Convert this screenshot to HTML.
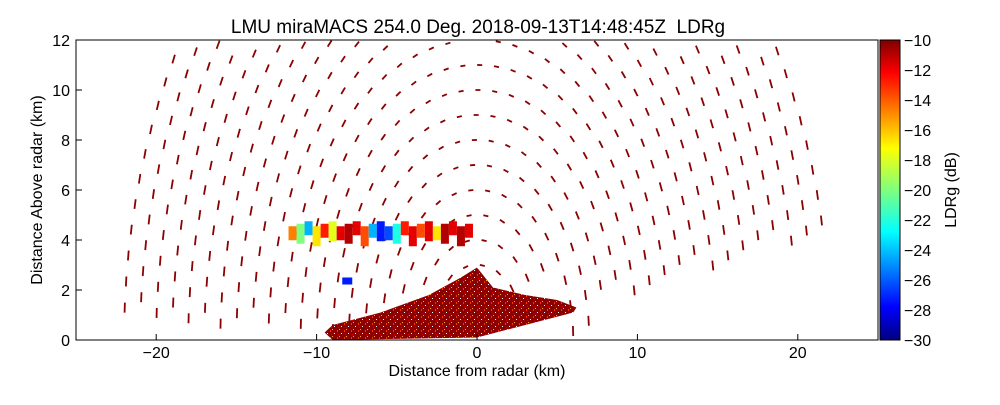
<!DOCTYPE html>
<html><head><meta charset="utf-8"><style>
body{margin:0;background:#fff;font-family:"Liberation Sans",sans-serif}
</style></head><body>
<svg id="c" width="1000" height="400" xmlns="http://www.w3.org/2000/svg">
<defs><linearGradient id="jet" x1="0" y1="1" x2="0" y2="0">
<stop offset="0" stop-color="#00007f"/><stop offset="0.11" stop-color="#0000ff"/><stop offset="0.36" stop-color="#00ffff"/><stop offset="0.5" stop-color="#7fff7f"/><stop offset="0.64" stop-color="#ffff00"/><stop offset="0.89" stop-color="#ff0000"/><stop offset="1" stop-color="#7f0000"/></linearGradient>
<pattern id="clut" width="7" height="7" patternUnits="userSpaceOnUse"><rect width="7" height="7" fill="#8b0000"/><rect x="1" y="1" width="1" height="2" fill="#ff3000"/><rect x="5" y="4" width="1" height="1" fill="#fff"/><rect x="3" y="0" width="1" height="1" fill="#ffb000"/><rect x="2" y="5" width="1" height="1" fill="#d00000"/></pattern></defs>
<text x="478" y="33" font-size="19" text-anchor="middle" xml:space="preserve">LMU miraMACS 254.0 Deg. 2018-09-13T14:48:45Z  LDRg</text>
<g id="marks"></g>
<rect x="76" y="40" width="802" height="300" fill="none" stroke="#000"/>
<g id="axes" font-size="16"></g>
<rect x="880" y="40" width="20" height="300" fill="url(#jet)" stroke="#000"/>
<text x="956" y="190" font-size="16" text-anchor="middle" transform="rotate(-90 956 190)">LDRg (dB)</text>
<text x="477" y="376" font-size="16" text-anchor="middle">Distance from radar (km)</text>
<text x="42" y="190" font-size="16" text-anchor="middle" transform="rotate(-90 42 190)">Distance Above radar  (km)</text>
</svg>
<script>
const xTicks=[-20,-10,0,10,20];
const yTicks=[0,2,4,6,8,10,12];
const cbTicks=[-10,-12,-14,-16,-18,-20,-22,-24,-26,-28,-30];
const gateRanges=[3.0,4.0,5.0,6.0,7.0,8.0,9.0,10.0,11.0,12.0,13.0,14.0,15.0,16.0,17.0,18.0,19.0,20.0,21.0,22.0];
const arcSpacingKm=[1.05];
const layerX=[-11.5,-11,-10.5,-10,-9.5,-9,-8.5,-8,-7.5,-7,-6.5,-6,-5.5,-5,-4.5,-4,-3.5,-3,-2.5,-2,-1.5,-1,-0.5];
const layerLDR=[-15,-20,-24,-17,-13,-18,-12,-11,-12,-14,-24,-27,-26,-22,-13,-12,-14,-12,-17,-11,-12,-11,-12];
const X=v=>477+v*16.04, Y=v=>340-v*25, CB=v=>40+(-10-v)*15;
const NS="http://www.w3.org/2000/svg";
function mk(t,a,p){const e=document.createElementNS(NS,t);for(const k in a)e.setAttribute(k,a[k]);p.appendChild(e);return e;}
const ax=document.getElementById('axes'),mg=document.getElementById('marks');
xTicks.forEach(v=>{mk('line',{x1:X(v),x2:X(v),y1:340,y2:334,stroke:'#000'},ax);
 const t=mk('text',{x:X(v),y:358,'text-anchor':'middle'},ax);t.textContent=(v<0?'\u2212':'')+Math.abs(v);
 
 });
yTicks.forEach(v=>{mk('line',{x1:76,x2:82,y1:Y(v),y2:Y(v),stroke:'#000'},ax);
 const t=mk('text',{x:70,y:Y(v)+6,'text-anchor':'end'},ax);t.textContent=v;
 
 });
cbTicks.forEach(v=>{mk('line',{x1:880,x2:884,y1:CB(v),y2:CB(v),stroke:'#000'},ax);
 const t=mk('text',{x:904,y:CB(v)+6},ax);t.textContent=(v<0?'\u2212':'')+Math.abs(v);
 
 });
gateRanges.forEach((r,i)=>{
 const step=arcSpacingKm[0]/r;
 for(let th=0.06+(i%3)*step/3;th<Math.PI-0.04;th+=step){
  const deg=th*180/Math.PI;
  if(deg<11&&r>7)continue; if(r<6&&deg<25)continue;
  const x=r*Math.cos(th),y=r*Math.sin(th);
  if(y>11.95||Math.abs(x)>24)continue;
  const tx=-Math.sin(th),ty=Math.cos(th),px=X(x),py=Y(y),L=5;
  const l=mk('line',{x1:px-tx*L*0.5,y1:py+ty*L,x2:px+tx*L*0.5,y2:py-ty*L,stroke:'#8b0000','stroke-width':1.8},mg);
  
  
 }
});
const cl=mk('polygon',{points:[[-9.5,0.3],[-9,0.6],[-6,1.1],[-3,1.8],[-1,2.5],[0,2.9],[1,2.1],[3,1.8],[5,1.6],[6.2,1.3],[6,1.1],[0,0.1],[-9,0]].map(p=>X(p[0])+','+Y(p[1])).join(' '),fill:'url(#clut)'},mg);


const jet=v=>{const t=(v+30)/20;const c=x=>Math.round(255*Math.max(0,Math.min(1,1.5-Math.abs(4*t-x))));return `rgb(${c(3)},${c(2)},${c(1)})`;};
layerX.forEach((x,i)=>{const r=mk('rect',{x:X(x-0.25),y:Y(4.55+(i%3)*0.1),width:8,height:14+(i%2)*6,fill:jet(layerLDR[i])},mg);
 
 });
const b=mk('rect',{x:X(-8.4),y:Y(2.5),width:10,height:7,fill:jet(-27)},mg);


</script>
</body></html>
